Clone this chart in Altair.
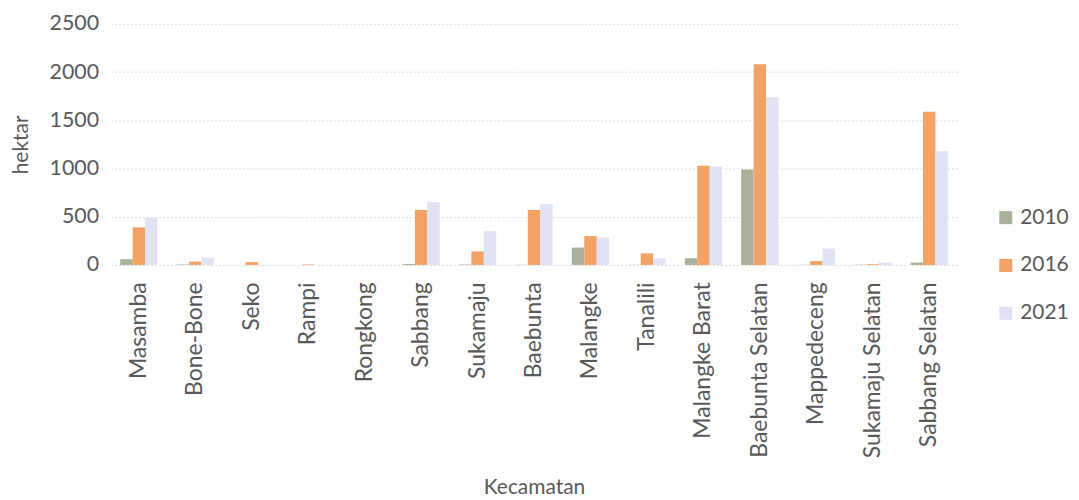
import altair as alt
import pandas as pd

kecamatan = ["Masamba", "Bone-Bone", "Seko", "Rampi", "Rongkong", "Sabbang", "Sukamaju",
             "Baebunta", "Malangke", "Tanalili", "Malangke Barat", "Baebunta Selatan",
             "Mappedeceng", "Sukamaju Selatan", "Sabbang Selatan"]
v2010 = [60, 5, 0, 0, 0, 10, 5, 2, 180, 2, 70, 990, 2, 3, 25]
v2016 = [390, 35, 30, 5, 0, 570, 140, 570, 300, 120, 1030, 2080, 40, 8, 1590]
v2021 = [490, 75, 2, 2, 0, 650, 350, 630, 285, 70, 1020, 1740, 170, 25, 1180]
years = ["2010", "2016", "2021"]
colors = ["#a8b29b", "#f2a265", "#dfe3f3"]

rows = []
for i, k in enumerate(kecamatan):
    for y, vals in zip(years, [v2010, v2016, v2021]):
        rows.append({"Kecamatan": k, "Tahun": y, "hektar": vals[i]})
df = pd.DataFrame(rows)

font = "Lato"
chart = alt.Chart(df).mark_bar().encode(
    x=alt.X("Kecamatan:N", sort=kecamatan, title="Kecamatan",
            scale=alt.Scale(paddingInner=0.34, paddingOuter=0.17),
            axis=alt.Axis(labelAngle=-90, labelFontSize=23, labelColor="#595959",
                          titleFontSize=21, titleColor="#595959", titleFontWeight="normal",
                          titlePadding=19, domain=False, ticks=False, labelPadding=17,
                          labelFont=font, titleFont=font)),
    xOffset=alt.XOffset("Tahun:N", sort=years),
    y=alt.Y("hektar:Q", title="hektar",
            scale=alt.Scale(domain=[0, 2500]),
            axis=alt.Axis(values=[0, 500, 1000, 1500, 2000, 2500], format="d",
                          labelFontSize=21.5,
                          labelColor="#595959", titleFontSize=21, titleColor="#595959",
                          titleFontWeight="normal", domain=False, ticks=False,
                          gridColor="#dcdcdc", gridDash=[2, 2], labelPadding=12,
                          titlePadding=18, labelFont=font, titleFont=font)),
    color=alt.Color("Tahun:N", sort=years,
                    scale=alt.Scale(domain=years, range=colors),
                    legend=alt.Legend(title=None, orient="none", legendX=888, legendY=184,
                                      symbolType="square", symbolSize=170,
                                      labelFontSize=21, labelColor="#595959",
                                      labelFont=font, rowPadding=26,
                                      symbolStrokeWidth=0)),
).properties(
    width=850, height=242,
    padding={"left": 2, "top": 4, "right": 2, "bottom": 2},
).configure_view(strokeWidth=0, stroke="transparent")

chart.save("out.html", embed_options={"renderer": "svg", "actions": False})
